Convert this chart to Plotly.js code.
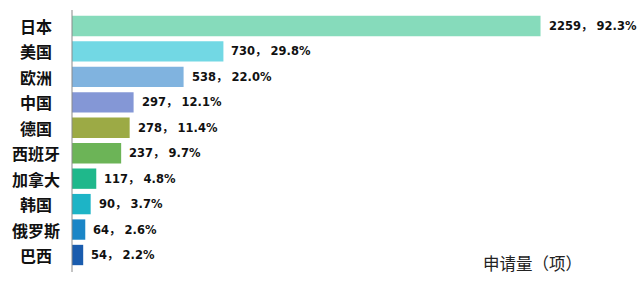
<!DOCTYPE html>
<html><head><meta charset="utf-8">
<script src="https://cdn.plot.ly/plotly-3.0.1.min.js"></script>
<style>html,body{margin:0;padding:0;background:#fff}#c{width:640px;height:299px}</style>
</head><body><div id="c"></div>
<script>
const countries = ["日本","美国","欧洲","中国","德国","西班牙","加拿大","韩国","俄罗斯","巴西"];
const counts = [2259,730,538,297,278,237,117,90,64,54];
const shares = ["92.3%","29.8%","22.0%","12.1%","11.4%","9.7%","4.8%","3.7%","2.6%","2.2%"];
const colors = ["#86dbbb","#72d8e4","#80b3df","#8497d6","#9caa45","#6cb457","#1fb88b","#1db4c6","#1b86c7","#1a5cae"];
const axisTitle = "申请量（项）";

const W = 640, H = 299;
const margin = {l: 72, r: 8, t: 12, b: 30};
const plotW = W - margin.l - margin.r;
const plotH = H - margin.t - margin.b;

const annotations = [];
countries.forEach((c, i) => {
  annotations.push({
    text: c, xref: "paper", yref: "y", x: (36 - margin.l) / plotW, y: c,
    xanchor: "center", yanchor: "middle", showarrow: false,
    font: {family: "Noto Sans CJK SC", size: 16, color: "#111", weight: "bold"}
  });
  annotations.push({
    text: counts[i] + "， " + shares[i], xref: "x", yref: "y", x: counts[i], y: c,
    xanchor: "left", yanchor: "middle", xshift: 6, showarrow: false,
    font: {family: "DejaVu Sans, Noto Sans CJK SC", size: 11.5, color: "#111", weight: "bold"}
  });
});
annotations.push({
  text: axisTitle, xref: "paper", yref: "paper",
  x: (532 - margin.l) / plotW, y: (H - margin.b - 263) / plotH,
  xanchor: "center", yanchor: "middle", showarrow: false,
  font: {family: "Noto Sans CJK SC", size: 16.5, color: "#222"}
});

Plotly.newPlot("c", [{
  type: "bar",
  orientation: "h",
  y: countries,
  x: counts,
  marker: {color: colors, line: {width: 0}},
  hoverinfo: "none"
}], {
  width: W, height: H,
  margin: margin,
  paper_bgcolor: "#fff", plot_bgcolor: "#fff",
  bargap: 0.2,
  showlegend: false,
  xaxis: {range: [0, 2700], showgrid: false, zeroline: false, showticklabels: false, showline: false, ticks: ""},
  yaxis: {autorange: "reversed", showgrid: false, zeroline: false, showline: false, showticklabels: false, ticks: ""},
  shapes: [{type: "line", xref: "paper", yref: "paper", x0: 0, x1: 0,
            y0: (H - margin.b - 272) / plotH, y1: 1 + (margin.t - 10) / plotH,
            line: {color: "#8a8a8a", width: 1}}],
  annotations: annotations
}, {displayModeBar: false, staticPlot: true});
</script></body></html>
